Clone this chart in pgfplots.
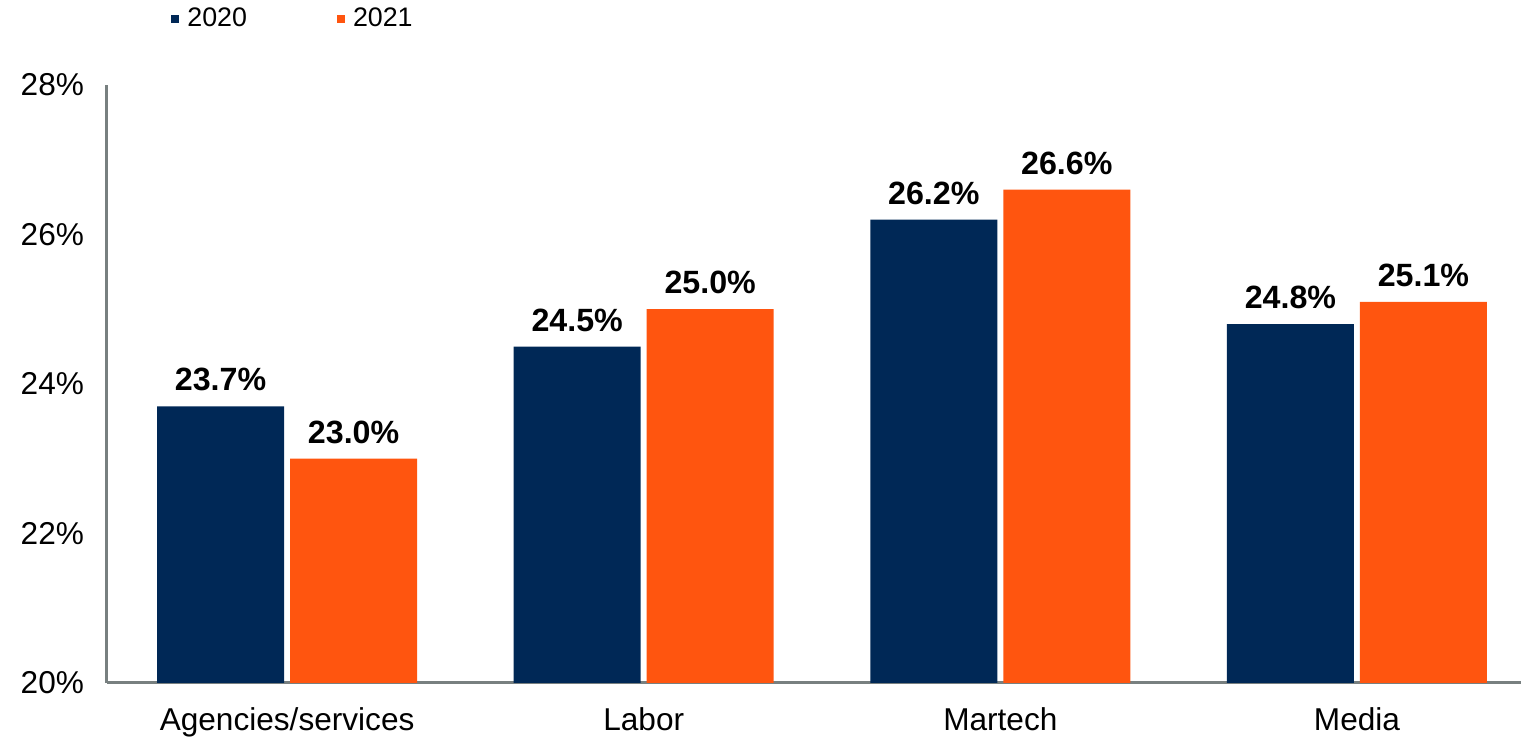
\documentclass[border=0pt]{standalone}
\usepackage{pgfplots}
\pgfplotsset{compat=1.18}
\usepackage{fontspec}
\setmainfont{Liberation Sans}
\definecolor{navy}{RGB}{0,40,86}
\definecolor{orng}{RGB}{255,85,15}
\definecolor{axgray}{RGB}{120,128,128}
\begin{document}
\begin{tikzpicture}
\begin{axis}[
  at={(0,0)}, anchor=south west,
  scale only axis,
  width=707pt, height=299pt,
  ymin=20, ymax=28,
  xmin=-0.505, xmax=3.46,
  ytick={20,22,24,26,28},
  yticklabel={\pgfmathprintnumber{\tick}\%},
  xtick={0,1,2,3},
  xticklabels={Agencies/services,Labor,Martech,Media},
  axis x line=bottom, axis y line=left,
  axis line style={axgray, line width=1.5pt, -},
  major tick length=0pt,
  ticklabel style={font=\fontsize{15.8pt}{18pt}\selectfont},
  yticklabel style={xshift=-8pt},
  xticklabel style={yshift=-9pt},
  /pgf/number format/assume math mode=true,
  ybar, bar width=63.5pt,
  nodes near coords={\pgfmathprintnumber[fixed,fixed zerofill,precision=1]{\pgfplotspointmeta}\%},
  every node near coord/.append style={font=\bfseries\fontsize{16.1pt}{18pt}\selectfont, black, yshift=4pt},
  legend columns=2,
  legend style={at={(0,1)}, anchor=west, xshift=32pt, yshift=33pt, draw=none, fill=none, inner sep=0pt,
    font=\fontsize{13.4pt}{16pt}\selectfont,
    /tikz/every even column/.append style={column sep=43pt}},
  clip=false,
]
\addplot[fill=navy, draw=none, bar shift=-33.25pt,
  legend image code/.code={\fill[navy] (0pt,-2pt) rectangle (4pt,2pt); \path (6pt,0pt);}]
  coordinates {(0,23.7) (1,24.5) (2,26.2) (3,24.8)};
\addplot[fill=orng, draw=none, bar shift=33.25pt,
  legend image code/.code={\fill[orng] (0pt,-2pt) rectangle (4pt,2pt); \path (6pt,0pt);}]
  coordinates {(0,23.0) (1,25.0) (2,26.6) (3,25.1)};
\legend{2020,2021}
\end{axis}
\pgfresetboundingbox
\path (-53.5pt,-27pt) rectangle (707pt,341.5pt);
\end{tikzpicture}
\end{document}
